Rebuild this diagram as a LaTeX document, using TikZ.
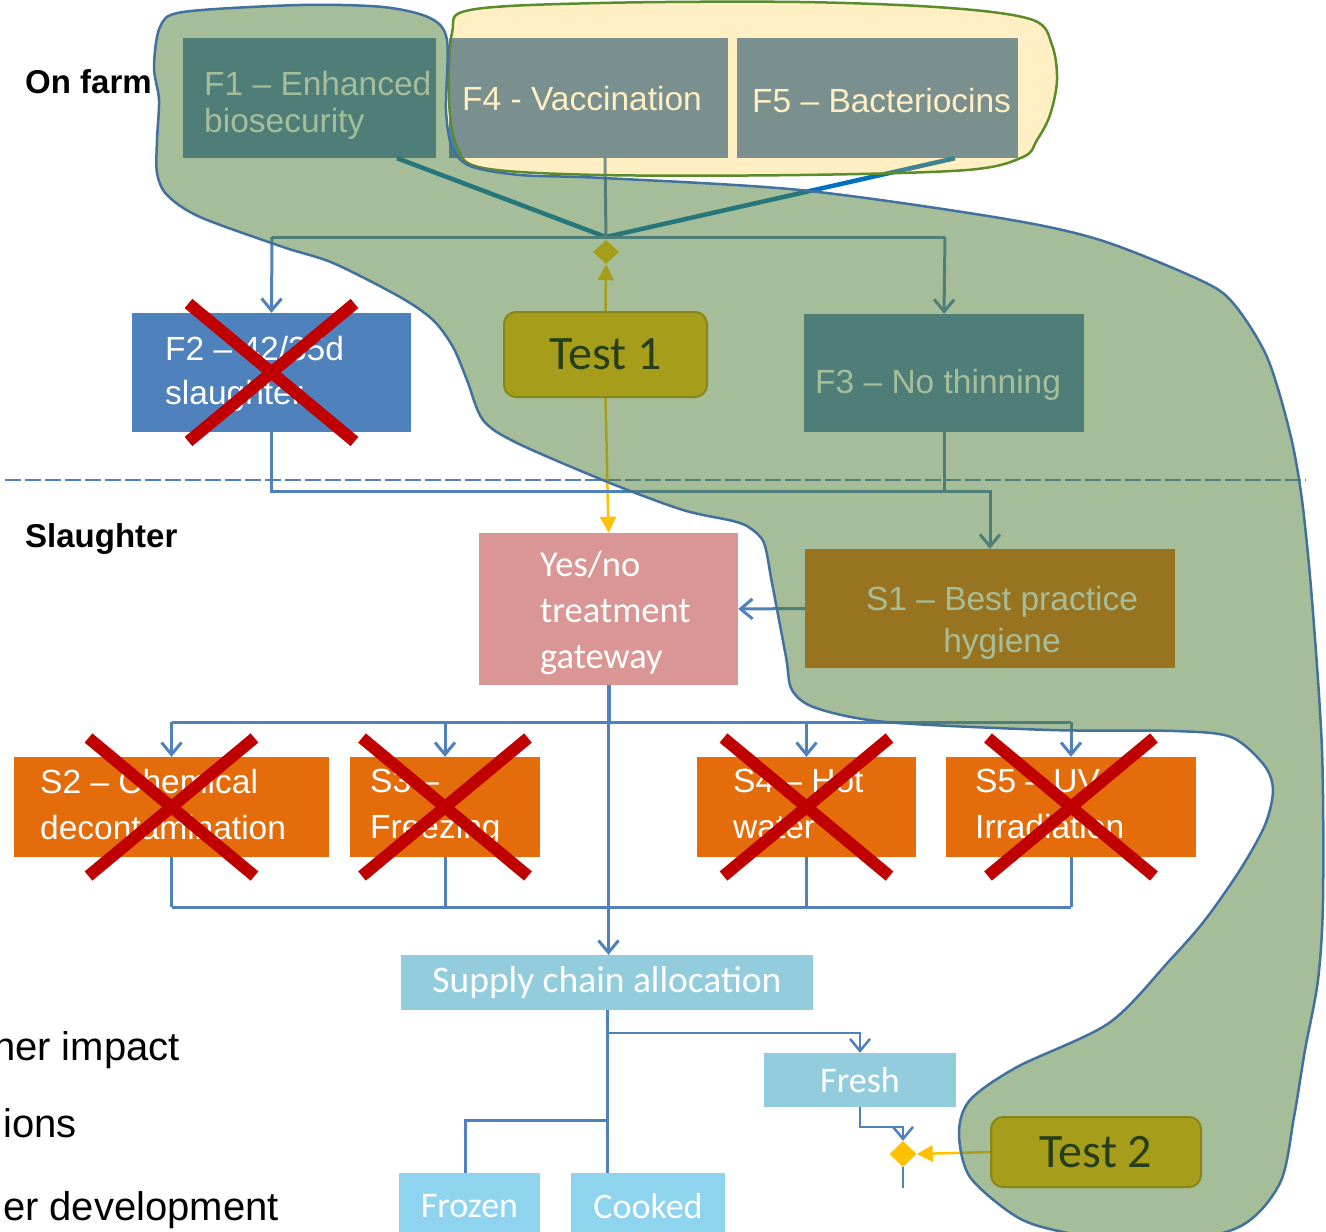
\documentclass[tikz,border=0pt]{standalone}
\usepackage{fontspec}
\setmainfont{Liberation Sans}
\newfontfamily\calfont{Carlito}
\usetikzlibrary{arrows.meta,calc,shapes.geometric}
\definecolor{boxblue}{HTML}{4F81BD}
\definecolor{thickblue}{HTML}{0070C0}
\definecolor{sorange}{HTML}{E46C0A}
\definecolor{gwpink}{HTML}{D99694}
\definecolor{lblue}{HTML}{93CDDD}
\definecolor{lbluetwo}{HTML}{8FD4EE}
\definecolor{gold}{HTML}{FFC000}
\definecolor{golddark}{HTML}{BF9000}
\definecolor{xred}{HTML}{C00000}
\definecolor{blobfill}{RGB}{79,125,55}
\definecolor{blobline}{HTML}{41719C}
\definecolor{yblobline}{HTML}{5A8C2B}
\newcommand\crossmark[1]{%
  \draw[xmark] ($(#1)+(-83,-69)$) -- ($(#1)+(83,69)$);
  \draw[xmark] ($(#1)+(83,-69)$) -- ($(#1)+(-83,69)$);}
\begin{document}
\begin{tikzpicture}[x=1pt,y=-1pt,
  box/.style={rectangle, inner sep=0pt, draw=none},
  lbl/.style={inner sep=0pt, text=white, align=left},
  fsf/.style={font={\fontsize{33.5}{38}\selectfont}},
  fss/.style={font={\fontsize{33.5}{46}\selectfont}},
  conn/.style={draw=boxblue, line width=3pt},
  arr/.style={conn, -{Straight Barb[length=12pt,width=20pt]}},
  thickln/.style={draw=thickblue, line width=4.5pt},
  goldarr/.style={draw=gold, line width=2.5pt, -{Triangle[length=16pt,width=16pt]}},
  xmark/.style={draw=xred, line width=12pt},
  testbox/.style={rectangle, rounded corners=12pt, fill=gold, draw=golddark, line width=2pt, text=black, font={\calfont\fontsize{48}{56}\selectfont}},
  dia/.style={diamond, fill=gold, inner sep=0pt},
  side/.style={inner sep=0pt, text=black, font={\bfseries\fontsize{33}{40}\selectfont}},
  note/.style={inner sep=0pt, text=black, font={\fontsize{40}{48}\selectfont}},
  calbox/.style={rectangle, inner sep=0pt, text=white, font={\calfont\fontsize{36}{44}\selectfont}}
]
\useasboundingbox (0,0) rectangle (1326,1232);
\clip (0,0) rectangle (1326,1232);
\fill[white] (0,0) rectangle (1326,1232);

% side labels
\node[side, anchor=base west] (onfarm) at (25,93) {On farm};
\node[side, anchor=base west] (slaughter) at (25,547) {Slaughter};
\node[note, anchor=base east] (n1) at (180,1060) {her impact};
\node[note, anchor=base east] (n2) at (77,1137) {ions};
\node[note, anchor=base east] (n3) at (279,1220) {er development};

% dashed separator
\coordinate (dl) at (5,480);
\coordinate (dr) at (1306,480);
\draw[draw=boxblue, line width=2.5pt, dash pattern=on 16pt off 4pt] (dl) -- (dr);

% farm boxes
\node[box, fill=boxblue, minimum width=253pt, minimum height=120pt] (f1) at (309.5,98) {};
\node[box, fill=boxblue, minimum width=279pt, minimum height=120pt] (f4) at (588.5,98) {};
\node[box, fill=boxblue, minimum width=281pt, minimum height=120pt] (f5) at (877.5,98) {};
\node[box, fill=boxblue, minimum width=279pt, minimum height=119pt] (f2) at (271.5,372.5) {};
\node[box, fill=boxblue, minimum width=280pt, minimum height=118pt] (f3) at (944,373) {};
\node[lbl, anchor=north west, font={\fontsize{33.5}{37}\selectfont}] (f1t) at (204,71) {F1 – Enhanced\\biosecurity};
\node[lbl, fsf, anchor=base west] (f4t) at (462,110) {F4 - Vaccination};
\node[lbl, fsf, anchor=base west] (f5t) at (752,112) {F5 – Bacteriocins};
\node[lbl, anchor=north west, font={\fontsize{33.5}{44}\selectfont}] (f2t) at (165,336) {F2 – 42/35d\\slaughter};
\node[lbl, fsf, anchor=base west] (f3t) at (815,393) {F3 – No thinning};

% test 1 and diamond
\node[dia, minimum width=26pt, minimum height=24pt] (d1) at (606,252) {};
\node[testbox, minimum width=203pt, minimum height=85pt] (t1) at (605.5,354.5) {Test 1};

% farm connectors
\coordinate (jn) at (606,237);
\draw[thickln] ($(f1.south)+(87.5,0)$) -- (jn);
\draw[thickln] ($(f5.south)+(77.5,0)$) -- (jn);
\draw[conn] ($(f4.south)+(16.5,0)$) -- (jn);
\coordinate (busL) at (272,237);
\coordinate (busR) at (945,237);
\draw[conn] (busL) -- (busR);
\draw[arr] (busL) -- (f2.north);
\draw[arr] (busR) -- (f3.north);
\draw[goldarr] (t1.north) -- (d1.south);

% slaughter boxes
\node[box, fill=gwpink, minimum width=259pt, minimum height=152pt] (gw) at (608.5,609) {};
\node[lbl, anchor=north west, font={\calfont\fontsize{36.5}{46}\selectfont}] (gwt) at (540,551) {Yes/no\\treatment\\gateway};
\node[box, fill=sorange, minimum width=370pt, minimum height=119pt] (s1) at (990,608.5) {};
\node[lbl, anchor=north, align=center, font={\fontsize{33.5}{42}\selectfont}] (s1t) at (1002,586) {S1 – Best practice\\hygiene};
\draw[goldarr] (t1.south) -- (gw.north);

\coordinate (m1) at (271.5,491);
\coordinate (m2) at (990,491);
\draw[arr] (f2.south) -- (m1) -- (m2) -- (s1.north);
\draw[conn] (f3.south) -- (f3.south |- m1);
\draw[arr] (s1.west) -- (gw.east);

\node[box, fill=sorange, minimum width=315pt, minimum height=100pt] (s2) at (171.5,807) {};
\node[box, fill=sorange, minimum width=190pt, minimum height=100pt] (s3) at (445,807) {};
\node[box, fill=sorange, minimum width=219pt, minimum height=100pt] (s4) at (806.5,807) {};
\node[box, fill=sorange, minimum width=250pt, minimum height=100pt] (s5) at (1071,807) {};
\node[lbl, fss, anchor=north west] (s2t) at (40,769) {S2 – Chemical\\decontamination};
\node[lbl, fss, anchor=north west] (s3t) at (370,769) {S3 –\\Freezing};
\node[lbl, fss, anchor=north west] (s4t) at (733,769) {S4 – Hot\\water};
\node[lbl, fss, anchor=north west] (s5t) at (975,769) {S5 – UV\\Irradiation};

% supply chain
\node[calbox, fill=lblue, minimum width=412pt, minimum height=55pt, font={\calfont\fontsize{37.5}{44}\selectfont}] (sca) at (607,982.5) {Supply chain allocation};
\node[calbox, fill=lblue, minimum width=192pt, minimum height=54pt] (fresh) at (860,1080) {Fresh};
\node[calbox, fill=lbluetwo, minimum width=141pt, minimum height=67pt] (frozen) at (469.5,1206.5) {Frozen};
\node[calbox, fill=lbluetwo, minimum width=154pt, minimum height=67pt] (cooked) at (648,1206.5) {Cooked};
\node[dia, minimum width=27pt, minimum height=26pt] (d2) at (903,1154) {};
\node[testbox, minimum width=210pt, minimum height=70pt] (t2) at (1096,1152) {Test 2};

% gateway connectors
\coordinate (gb) at (0,722);
\coordinate (bb) at (0,907);
\draw[conn, line width=4pt] (gw.south) -- (gw.south |- gb);
\draw[arr] (gw.south |- gb) -- (gw.south |- sca.north);
\draw[conn] (s2.north |- gb) -- (s5.north |- gb);
\foreach \n in {s2,s3,s4,s5} {\draw[arr] (\n.north |- gb) -- (\n.north);}
\draw[conn] (s2.south |- bb) -- (s5.south |- bb);
\foreach \n in {s2,s3,s4,s5} {\draw[conn] (\n.south) -- (\n.south |- bb);}

% supply connectors
\coordinate (c1) at (0,1033);
\coordinate (c2) at (0,1120);
\coordinate (c3) at (0,1127);
\draw[conn] (sca.south) -- (sca.south |- cooked.north);
\draw[arr, line width=2.5pt] (sca.south |- c1) -- (fresh.north |- c1) -- (fresh.north);
\draw[conn] (sca.south |- c2) -- ($(frozen.north |- c2)+(-4,0)$) -- ($(frozen.north)+(-4,0)$);
\draw[arr, line width=2.5pt] (fresh.south) -- (fresh.south |- c3) -- (d2.north |- c3) -- (d2.north);
\coordinate (dout) at (903,1188);
\draw[conn, line width=2.5pt] (d2.south) -- (dout);
\draw[goldarr] (t2.west) -- (d2.east);

% red crosses
\crossmark{f2}
\crossmark{s2}
\crossmark{s3}
\crossmark{s4}
\crossmark{s5}

% yellow blob
\draw[fill=gold, fill opacity=0.24, draw=yblobline, line width=2.5pt]
  plot[smooth cycle, tension=0.55] coordinates {(452,33) (470,10) (600,3) (800,2) (950,8) (1033,20) (1052,45) (1057,80) (1050,115) (1037,140) (1023,157) (967,170) (800,175) (600,175) (483,168) (457,147) (449,100)};

% green blob
\draw[fill=blobfill, fill opacity=0.5, draw=blobline, line width=2.5pt]
  plot[smooth cycle, tension=0.5] coordinates {(160,27) (183,12) (300,5) (383,7) (430,18) (447,40) (446,110) (452,147) (470,166) (520,175) (603,178) (800,190) (1000,218) (1100,240) (1200,280) (1233,303) (1267,357) (1290,433) (1302,500) (1312,600) (1322,750) (1323,900) (1318,980) (1305,1050) (1294,1117) (1280,1183) (1239,1227) (1150,1246) (1063,1232) (1017,1217) (970,1177) (959,1133) (970,1100) (1017,1067) (1109,1023) (1170,960) (1205,920) (1240,870) (1265,825) (1273,790) (1264,765) (1231,737) (1174,731) (1050,730) (886,722) (816,708) (792,690) (786,657) (772,583) (764,543) (750,528) (733,521) (683,510) (610,483) (517,443) (483,420) (467,380) (453,347) (433,320) (400,297) (333,263) (283,247) (200,217) (167,195) (157,173) (157,140) (159,100) (154,67)};
\end{tikzpicture}
\end{document}
